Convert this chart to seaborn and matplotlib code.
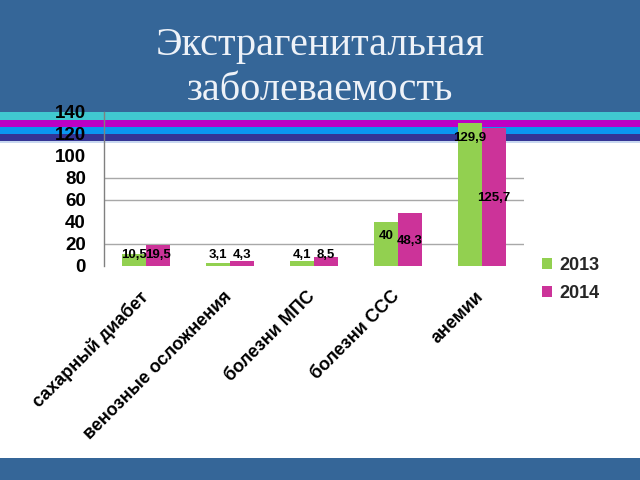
import matplotlib
matplotlib.use("Agg")
import matplotlib.pyplot as plt
from matplotlib.patches import Rectangle
import matplotlib.transforms as mtransforms
import seaborn as sns
import pandas as pd

categories = ["сахарный диабет", "венозные осложнения", "болезни МПС", "болезни ССС", "анемии"]
years = ["2013", "2014"]
values_2013 = [10.5, 3.1, 4.1, 40, 129.9]
values_2014 = [19.5, 4.3, 8.5, 48.3, 125.7]
label_2013 = ["10,5", "3,1", "4,1", "40", "129,9"]
label_2014 = ["19,5", "4,3", "8,5", "48,3", "125,7"]
yticks = [0, 20, 40, 60, 80, 100, 120, 140]
title_lines = ["Экстрагенитальная", "заболеваемость"]

# style-only: where data labels sit (data units) and which gridlines are visible
label_y_2013 = [10, 10, 10, 27, 116]
label_y_2014 = [10, 10, 10, 23, 62]
grid_levels = [20, 60, 80]

sns.set_theme(style="white")
plt.rcParams["font.family"] = ["Liberation Sans", "DejaVu Sans"]

df = pd.DataFrame({
    "cat": categories * 2,
    "year": [years[0]] * len(categories) + [years[1]] * len(categories),
    "val": values_2013 + values_2014,
})

fig = plt.figure(figsize=(6.4, 4.8), dpi=100)
fig.patch.set_facecolor("white")

H = 480.0
def band(y0, y1, color):
    fig.patches.append(Rectangle((0, 1 - y1 / H), 1, (y1 - y0) / H, transform=fig.transFigure,
                                 facecolor=color, edgecolor="none", zorder=-10))

band(0, 112, "#356698")
band(112, 119.5, "#40C8D0")
band(119.5, 127, "#BC00C4")
band(127, 134, "#0A96F0")
band(134, 141, "#343494")
band(141, 142.5, "#C8D8F0")
band(458, 480, "#356698")

for i, line in enumerate(title_lines):
    fig.text(0.5, 1 - (45 + 46 * i) / H, line, ha="center", va="center",
             family="Liberation Serif", fontsize=29, color="#EEF2F8")

ax = fig.add_axes([104 / 640, 1 - 266 / H, 420 / 640, 154 / H])
ax.patch.set_alpha(0)
ax.set_zorder(1)

sns.barplot(data=df, x="cat", y="val", hue="year", order=categories, hue_order=years,
            palette=["#92D050", "#CC3399"], width=0.57, saturation=1, ax=ax,
            edgecolor="none", legend=True)

ax.set_ylim(0, 140)
ax.set_xlim(-0.5, len(categories) - 0.5)
ax.set_yticks(yticks)
ax.set_yticklabels([str(t) for t in yticks], fontsize=13.5, fontweight="bold", color="black")
ax.tick_params(axis="y", length=0, pad=13)
for g in grid_levels:
    ax.axhline(g, color="#A8A8A8", lw=1, zorder=0.5)

ax.set_xticks(range(len(categories)))
ax.set_xticklabels(categories, rotation=45, ha="right", rotation_mode="anchor",
                   fontsize=13, fontweight="bold", color="black")
ax.tick_params(axis="x", length=0, pad=15)
offset = mtransforms.ScaledTranslation(-7 / 100, -1 / 100, fig.dpi_scale_trans)
for lbl in ax.get_xticklabels():
    lbl.set_transform(lbl.get_transform() + offset)
ax.set_xticks([-0.5, 1.5, 3.5], minor=True)
ax.tick_params(axis="x", which="minor", length=5, color="#808080", width=1, direction="out")
ax.set_xlabel("")
ax.set_ylabel("")
for s in ["top", "right", "bottom"]:
    ax.spines[s].set_visible(False)
ax.spines["left"].set_color("#808080")
ax.spines["left"].set_linewidth(1)

for cont, labs, ys in zip(ax.containers, [label_2013, label_2014], [label_y_2013, label_y_2014]):
    for patch, lab, yy in zip(cont.patches, labs, ys):
        xc = patch.get_x() + patch.get_width() / 2
        ax.text(xc, yy, lab, ha="center", va="center", fontsize=9.5, fontweight="bold",
                color="black", zorder=5)

leg = ax.legend(loc="upper left", bbox_to_anchor=(526 / 640, 1 - 241 / H),
                bbox_transform=fig.transFigure, frameon=False, fontsize=13,
                handlelength=0.55, handleheight=0.55, handletextpad=0.4, labelspacing=0.6)
for t in leg.get_texts():
    t.set_fontweight("bold")

fig.savefig("out.png", dpi=100)
